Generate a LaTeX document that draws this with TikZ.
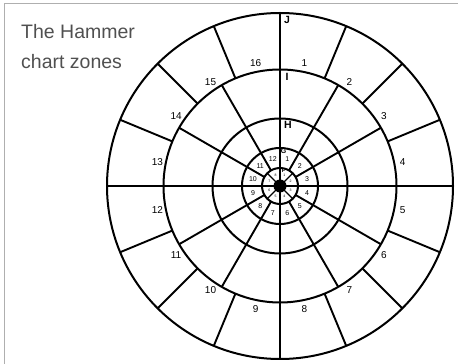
\documentclass[tikz,border=0pt]{standalone}
\usepackage{fontspec}
\setmainfont{Liberation Sans}
\usetikzlibrary{calc}
\definecolor{titlegray}{RGB}{80,80,80}
\definecolor{framegray}{RGB}{175,175,175}

\begin{document}
\begin{tikzpicture}[x=1pt, y=1pt,
    ring/.style={line width=2pt},
    spoke/.style={line width=1.9pt},
    zonename/.style={inner sep=0pt, font=\fontsize{10.5}{10}\selectfont\bfseries},
    cellno/.style={inner sep=0pt, font=\fontsize{10}{10}\selectfont},
    smallno/.style={inner sep=0pt, font=\fontsize{7}{7}\selectfont}]
\useasboundingbox (0,0) rectangle (458,364);
\draw[framegray, line width=1pt] (4,0) -- (4,360) -- (458,360);
\node[anchor=north west, inner sep=0pt, align=left, text=titlegray,
      font=\fontsize{19.5}{30}\selectfont] (title) at (21,340) {The Hammer\\chart zones};

\coordinate (c) at (280,178);
% circles J, I, H, G, F
\foreach \r in {173,116.5,67.5,38,18} {
    \draw[ring] (c) circle (\r);
}
% zone J: 16 compartments
\foreach \a in {22.5,45,...,337.5} {
    \draw[spoke] ($(c)+(\a:116.5)$) -- ($(c)+(\a:173)$);
}
% zones G, H, I: 12 compartments
\foreach \a in {30,60,...,330} {
    \draw[spoke] ($(c)+(\a:18)$) -- ($(c)+(\a:116.5)$);
}
\draw[spoke] ($(c)+(0:173)$) -- ($(c)+(180:173)$);
\draw[spoke] ($(c)+(90:173)$) -- ($(c)+(270:173)$);
% inner zones
\foreach \a in {45,135,225,315} {
    \draw[line width=1.2pt] ($(c)+(\a:6)$) -- ($(c)+(\a:18)$);
}
\fill (c) circle (6.5);

% zone letters
\node[zonename] (zJ) at ($(c)+(7,166)$) {J};
\node[zonename] (zI) at ($(c)+(7,109)$) {I};
\node[zonename] (zH) at ($(c)+(8,61)$) {H};
\node[inner sep=0pt, font=\fontsize{7}{7}\selectfont\bfseries] (zG) at ($(c)+(3.5,35)$) {G};
\node[inner sep=0pt, font=\fontsize{5.5}{6}\selectfont\bfseries] (zF) at ($(c)+(3.5,15.5)$) {F};

% compartment numbers
\foreach \k in {1,...,16} {
    \node[cellno] (j\k) at ($(c)+({90-(\k-0.5)*22.5}:125)$) {\k};
}
\foreach \k in {1,...,12} {
    \node[smallno] (g\k) at ($(c)+({90-(\k-0.5)*30}:28)$) {\k};
}
\foreach \k in {1,...,8} {
    \node[inner sep=0pt, font=\fontsize{3.5}{4}\selectfont] (f\k) at ($(c)+({90-(\k-0.5)*45}:11.5)$) {\k};
}
\end{tikzpicture}
\end{document}
